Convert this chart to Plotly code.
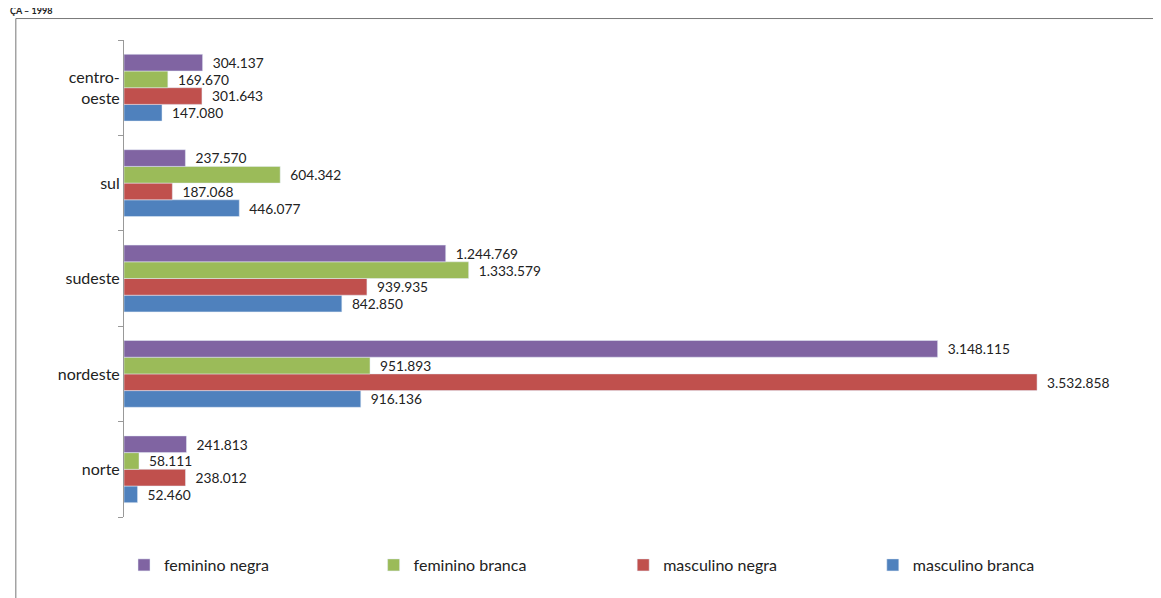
import plotly.graph_objects as go

regions = ["norte", "nordeste", "sudeste", "sul", "centro-<br>oeste"]
masc_branca = [52460, 916136, 842850, 446077, 147080]
masc_negra = [238012, 3532858, 939935, 187068, 301643]
fem_branca = [58111, 951893, 1333579, 604342, 169670]
fem_negra = [241813, 3148115, 1244769, 237570, 304137]

series = [("masculino branca", masc_branca, "#4F81BD", "legend4"),
          ("masculino negra", masc_negra, "#C0504D", "legend3"),
          ("feminino branca", fem_branca, "#9BBB59", "legend2"),
          ("feminino negra", fem_negra, "#8064A2", "legend")]

def fmt(v):
    return "  " + f"{v:,}".replace(",", ".")

fig = go.Figure()
for name, vals, col, lg in series:
    fig.add_trace(go.Bar(y=regions, x=vals, name=name, orientation="h", legend=lg,
                         marker_color=col, text=[fmt(v) for v in vals],
                         textposition="outside", cliponaxis=False,
                         textfont=dict(size=14, color="#222")))

leg = dict(orientation="h", y=-0.065, yanchor="top", font=dict(size=16), itemwidth=30)
fig.update_layout(
    width=1161, height=598, barmode="group", bargap=0.3, bargroupgap=0,
    plot_bgcolor="white", paper_bgcolor="white",
    font=dict(family="Lato", color="#222"),
    margin=dict(l=116, r=5, t=32, b=89, autoexpand=False),
    xaxis=dict(range=[0, 4024000], visible=False),
    yaxis=dict(showline=True, linecolor="#999", ticks="outside", tickson="boundaries",
               ticklen=5, tickcolor="#999", tickfont=dict(size=16), showgrid=False,
               automargin=False),
    legend=dict(leg, x=0.0),
    legend2=dict(leg, x=0.24),
    legend3=dict(leg, x=0.48),
    legend4=dict(leg, x=0.72),
    showlegend=True,
)
fig.add_shape(type="rect", xref="paper", yref="paper", x0=-0.104, x1=1.1, y0=-0.3, y1=1.045,
              line=dict(color="#777", width=1))
fig.add_annotation(xref="paper", yref="paper", x=-0.112, y=1.047, xanchor="left", yanchor="bottom",
                   text="<b>ÇA – 1998</b>", showarrow=False, font=dict(size=9, color="#222"))
fig.write_html("out.html")
